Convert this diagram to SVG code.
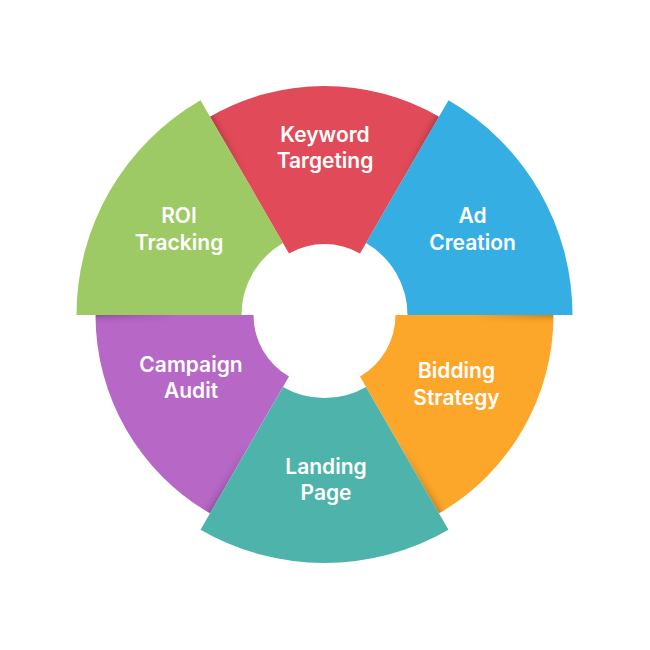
<svg xmlns="http://www.w3.org/2000/svg" width="650" height="650" viewBox="0 0 650 650">
<style>
.lbl{font-family:Inter,"Open Sans","DejaVu Sans",sans-serif;font-weight:600;font-size:21px;fill:#ffffff;text-anchor:middle}
</style>
<defs>
<filter id="blur" x="-20%" y="-20%" width="140%" height="140%"><feGaussianBlur stdDeviation="4"/></filter>
<radialGradient id="fade" gradientUnits="userSpaceOnUse" cx="0" cy="0" r="248">
<stop offset="0.6" stop-color="#000"/>
<stop offset="0.93" stop-color="#fff"/>
</radialGradient>
<mask id="shadowMask" maskUnits="userSpaceOnUse" x="-300" y="-300" width="600" height="600">
<rect x="-300" y="-300" width="600" height="600" fill="url(#fade)"/>
</mask>
<path id="pKey" d="M 114.5 -198.31 A 229 229 0 0 0 -114.5 -198.31 L -35.5 -61.49 A 71 71 0 0 1 35.5 -61.49 Z"/>
<path id="pBid" d="M 229 0 A 229 229 0 0 1 114.5 198.31 L 35.5 61.49 A 71 71 0 0 0 71 0 Z"/>
<path id="pCam" d="M -229 0 A 229 229 0 0 0 -114.5 198.31 L -35.5 61.49 A 71 71 0 0 1 -71 0 Z"/>
<path id="pAd" d="M 248 0 A 248 248 0 0 0 124 -214.77 L 41.5 -71.88 A 83 83 0 0 1 83 0 Z"/>
<path id="pLan" d="M 124 214.77 A 248 248 0 0 1 -124 214.77 L -41.5 71.88 A 83 83 0 0 0 41.5 71.88 Z"/>
<path id="pRoi" d="M -124 -214.77 A 248 248 0 0 0 -248 0 L -83 0 A 83 83 0 0 1 -41.5 -71.88 Z"/>
<clipPath id="smallClip">
<use href="#pKey"/><use href="#pBid"/><use href="#pCam"/>
</clipPath>
</defs>
<rect width="650" height="650" fill="#ffffff"/>
<g transform="translate(324.5 315)">
<g id="keyword-targeting">
<use href="#pKey" fill="#E14B59"/>
<text class="lbl" x="0.5" y="-173">Keyword</text>
<text class="lbl" x="0.5" y="-147">Targeting</text>
</g>
<g id="bidding-strategy">
<use href="#pBid" fill="#FCA62A"/>
<text class="lbl" x="132" y="63">Bidding</text>
<text class="lbl" x="132" y="90">Strategy</text>
</g>
<g id="campaign-audit">
<use href="#pCam" fill="#B767C5"/>
<text class="lbl" x="-133.5" y="57">Campaign</text>
<text class="lbl" x="-133.5" y="83">Audit</text>
</g>
<g id="shadows" clip-path="url(#smallClip)">
<g mask="url(#shadowMask)">
<g filter="url(#blur)" fill="#000" opacity="0.45">
<use href="#pAd"/><use href="#pLan"/><use href="#pRoi"/>
</g>
</g>
</g>
<g id="ad-creation">
<use href="#pAd" fill="#35AFE3"/>
<text class="lbl" x="148" y="-92">Ad</text>
<text class="lbl" x="148" y="-65">Creation</text>
</g>
<g id="landing-page">
<use href="#pLan" fill="#4EB4AB"/>
<text class="lbl" x="1.5" y="159">Landing</text>
<text class="lbl" x="1.5" y="185">Page</text>
</g>
<g id="roi-tracking">
<use href="#pRoi" fill="#9DCA65"/>
<text class="lbl" x="-145.5" y="-92">ROI</text>
<text class="lbl" x="-145.5" y="-65">Tracking</text>
</g>
</g>
</svg>
